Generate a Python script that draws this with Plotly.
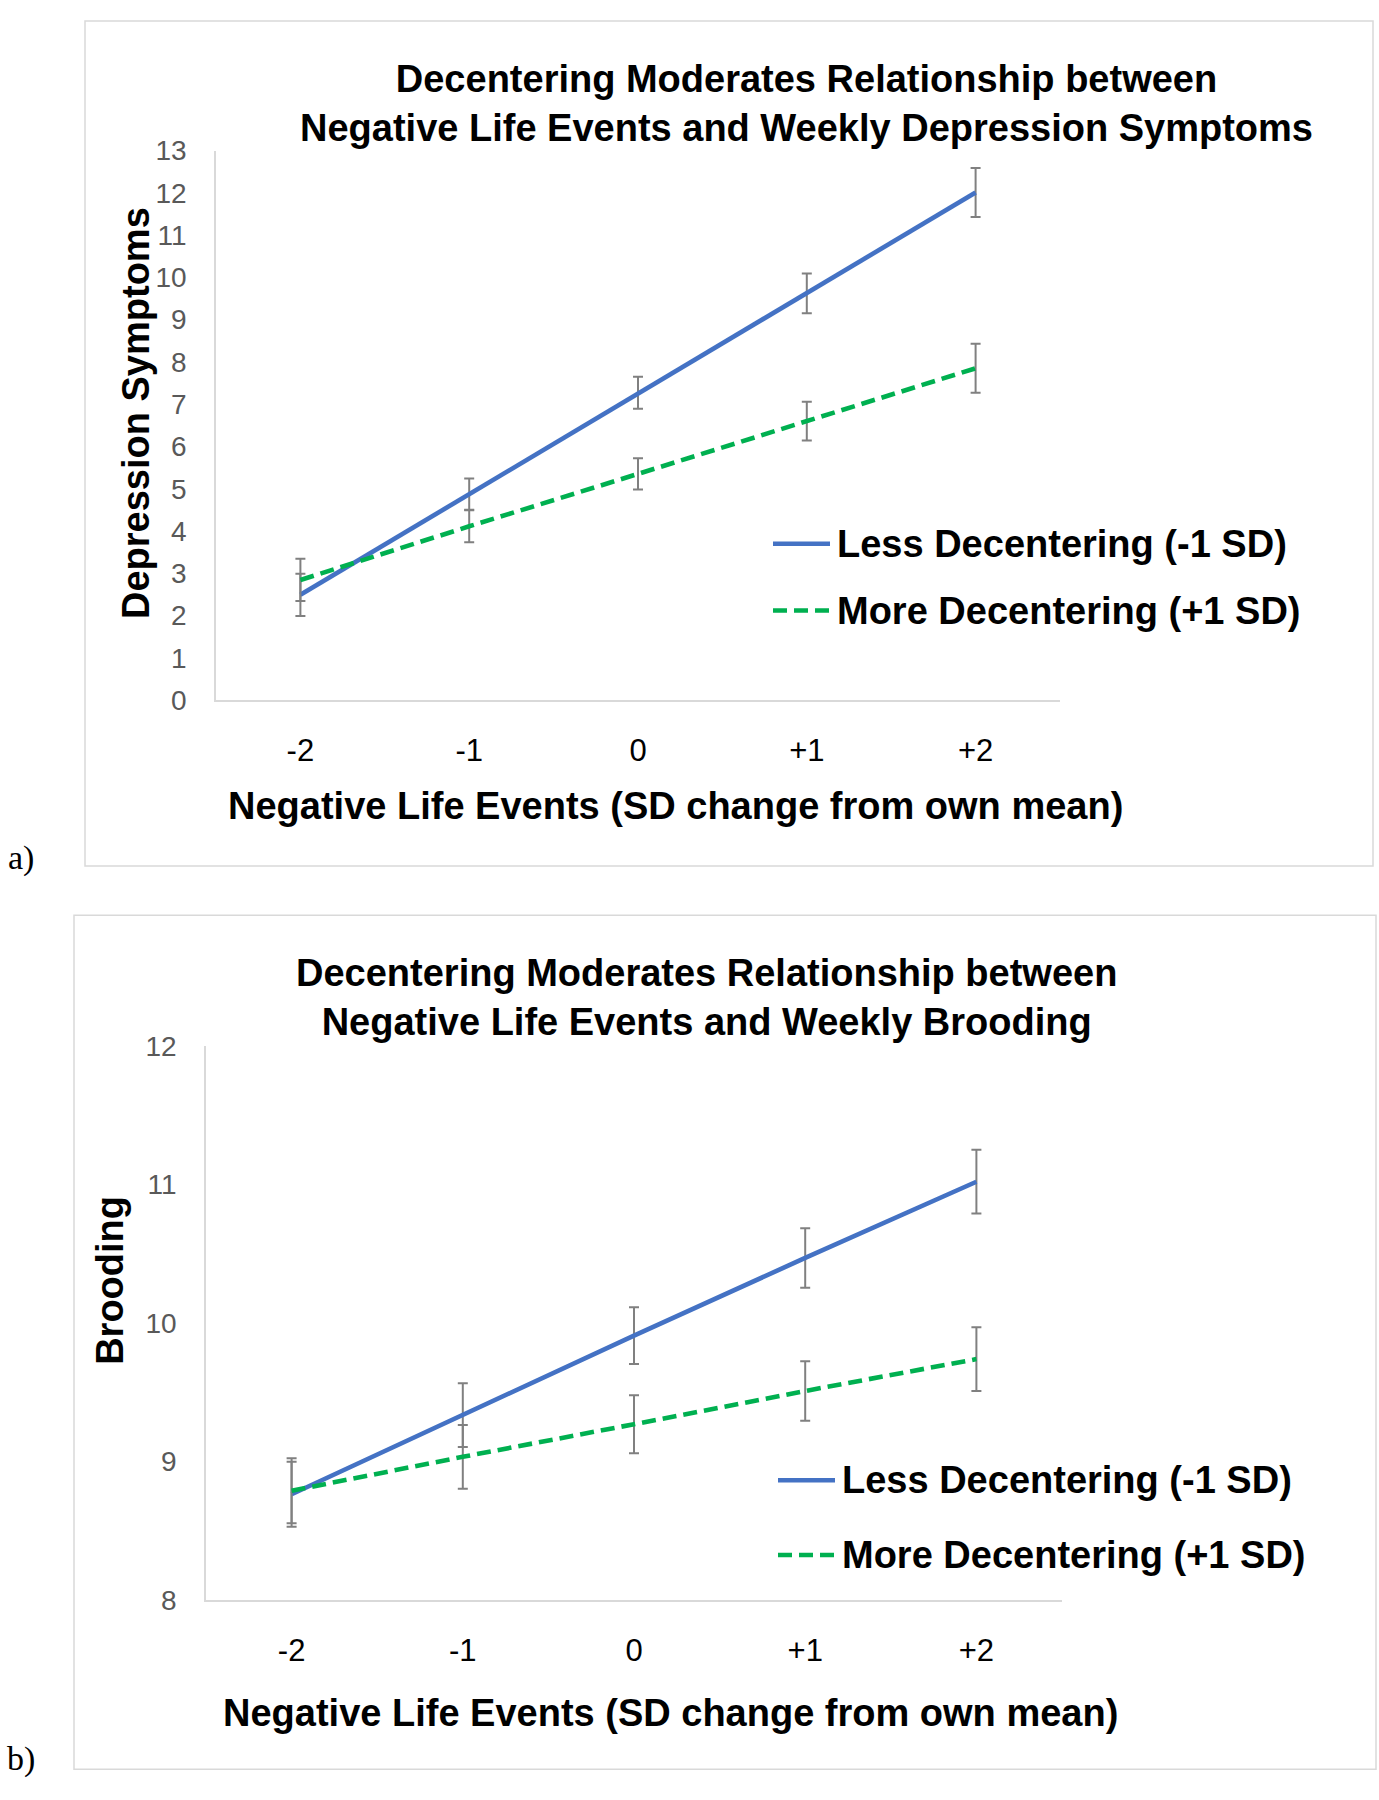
import plotly.graph_objects as go

W, H = 1379, 1800

# ---------------- data ----------------
categories = ["-2", "-1", "0", "+1", "+2"]

# Panel a: depression symptoms
dep_less = [2.49, 4.87, 7.27, 9.62, 12.01]
dep_less_err = [0.50, 0.37, 0.38, 0.47, 0.58]
dep_more = [2.84, 4.11, 5.35, 6.60, 7.85]
dep_more_err = [0.50, 0.38, 0.37, 0.46, 0.58]

# Panel b: brooding
brd_less = [8.765, 9.335, 9.91, 10.47, 11.02]
brd_less_err = [0.235, 0.23, 0.205, 0.215, 0.23]
brd_more = [8.79, 9.035, 9.27, 9.51, 9.74]
brd_more_err = [0.235, 0.23, 0.21, 0.215, 0.23]

series_names = ["Less Decentering (-1 SD)", "More Decentering (+1 SD)"]
title_a = "Decentering Moderates Relationship between<br>Negative Life Events and Weekly Depression Symptoms"
title_b = "Decentering Moderates Relationship between<br>Negative Life Events and Weekly Brooding"
xtitle = "Negative Life Events (SD change from own mean)"
ytitle_a = "Depression Symptoms"
ytitle_b = "Brooding"

BLUE = "#4472C4"
GREEN = "#00B050"
ERR = "#808080"
AXIS = "#D9D9D9"
FONT = "Liberation Sans, Arial, sans-serif"
DASH = "14px,7px"
LW = 4.6
BOLD = 38


def px(x):
    return x / W


def py(y):
    return 1 - y / H


fig = go.Figure()


def add_series(y, err, color, dash, xa, ya):
    fig.add_trace(go.Scatter(
        x=categories, y=y, mode="lines",
        line=dict(color=color, width=LW, dash=dash),
        error_y=dict(type="data", array=err, visible=True, color=ERR,
                     thickness=2, width=5),
        xaxis=xa, yaxis=ya, showlegend=False, hoverinfo="skip"))


add_series(dep_less, dep_less_err, BLUE, "solid", "x", "y")
add_series(dep_more, dep_more_err, GREEN, DASH, "x", "y")
add_series(brd_less, brd_less_err, BLUE, "solid", "x2", "y2")
add_series(brd_more, brd_more_err, GREEN, DASH, "x2", "y2")

common_x = dict(type="category", categoryorder="array", categoryarray=categories,
                range=[-0.5, 4.5], showline=True, linecolor=AXIS, linewidth=1.5,
                showgrid=False, zeroline=False, ticks="", tickangle=0,
                tickfont=dict(family=FONT, size=31, color="#000000"),
                ticklabelstandoff=22)
common_y = dict(showline=True, linecolor=AXIS, linewidth=1.5, showgrid=False,
                zeroline=False, ticks="", dtick=1, tickangle=0,
                tickfont=dict(family=FONT, size=28, color="#595959"),
                ticklabelstandoff=22)

fig.update_layout(
    width=W, height=H,
    margin=dict(l=0, r=0, t=0, b=0),
    paper_bgcolor="white", plot_bgcolor="white",
    xaxis=dict(domain=[px(216), px(1060)], anchor="y", **common_x),
    yaxis=dict(domain=[py(697), py(138)], anchor="x", range=[0, 13], **common_y),
    xaxis2=dict(domain=[px(206), px(1062)], anchor="y2", **common_x),
    yaxis2=dict(domain=[py(1613), py(1049)], anchor="x2", range=[8, 12], **common_y),
)

shapes = []
annotations = []

# panel frames
shapes.append(dict(type="rect", xref="paper", yref="paper",
                   x0=px(85), x1=px(1373), y0=py(866), y1=py(6),
                   line=dict(color=AXIS, width=1.5)))
shapes.append(dict(type="rect", xref="paper", yref="paper",
                   x0=px(74), x1=px(1376), y0=py(1785), y1=py(916),
                   line=dict(color=AXIS, width=1.5)))


def txt(text, x, y, size, bold=True, angle=0, family=FONT, xanchor="center", color="#000000"):
    annotations.append(dict(
        text=f"<b>{text}</b>" if bold else text, x=px(x), y=py(y),
        xref="paper", yref="paper", showarrow=False, textangle=angle,
        xanchor=xanchor, yanchor="middle", align="center",
        font=dict(family=family, size=size, color=color)))


# titles
txt(title_a, 806, 90, BOLD)
txt(title_b, 706, 1000, BOLD)
# axis titles
txt(xtitle, 675, 805, BOLD)
txt(xtitle, 670, 1728, BOLD)
txt(ytitle_a, 136, 405, BOLD, angle=-90)
txt(ytitle_b, 110, 1288, BOLD, angle=-90)
# panel letters
txt("a)", 21, 858, 34, bold=False, family="Liberation Serif, Times New Roman, serif")
txt("b)", 21, 1775, 34, bold=False, family="Liberation Serif, Times New Roman, serif")

# legends
legend_a = [(538, BLUE, "solid"), (606, GREEN, "dash")]
legend_b = [(1491, BLUE, "solid"), (1567, GREEN, "dash")]
for (ly, col, dsh), name in zip(legend_a, series_names):
    shapes.append(dict(type="line", xref="paper", yref="paper",
                       x0=px(773), x1=px(830), y0=py(ly), y1=py(ly),
                       line=dict(color=col, width=LW, dash=DASH if dsh == "dash" else "solid")))
    txt(name, 835, ly, BOLD, xanchor="left")
for (ly, col, dsh), name in zip(legend_b, series_names):
    shapes.append(dict(type="line", xref="paper", yref="paper",
                       x0=px(778), x1=px(835), y0=py(ly), y1=py(ly),
                       line=dict(color=col, width=LW, dash=DASH if dsh == "dash" else "solid")))
    txt(name, 840, ly, BOLD, xanchor="left")

fig.update_layout(shapes=shapes, annotations=annotations)

fig.write_html("out.html", config={"displayModeBar": False},
               post_script="document.body.style.margin='0';document.body.style.overflow='hidden';")
